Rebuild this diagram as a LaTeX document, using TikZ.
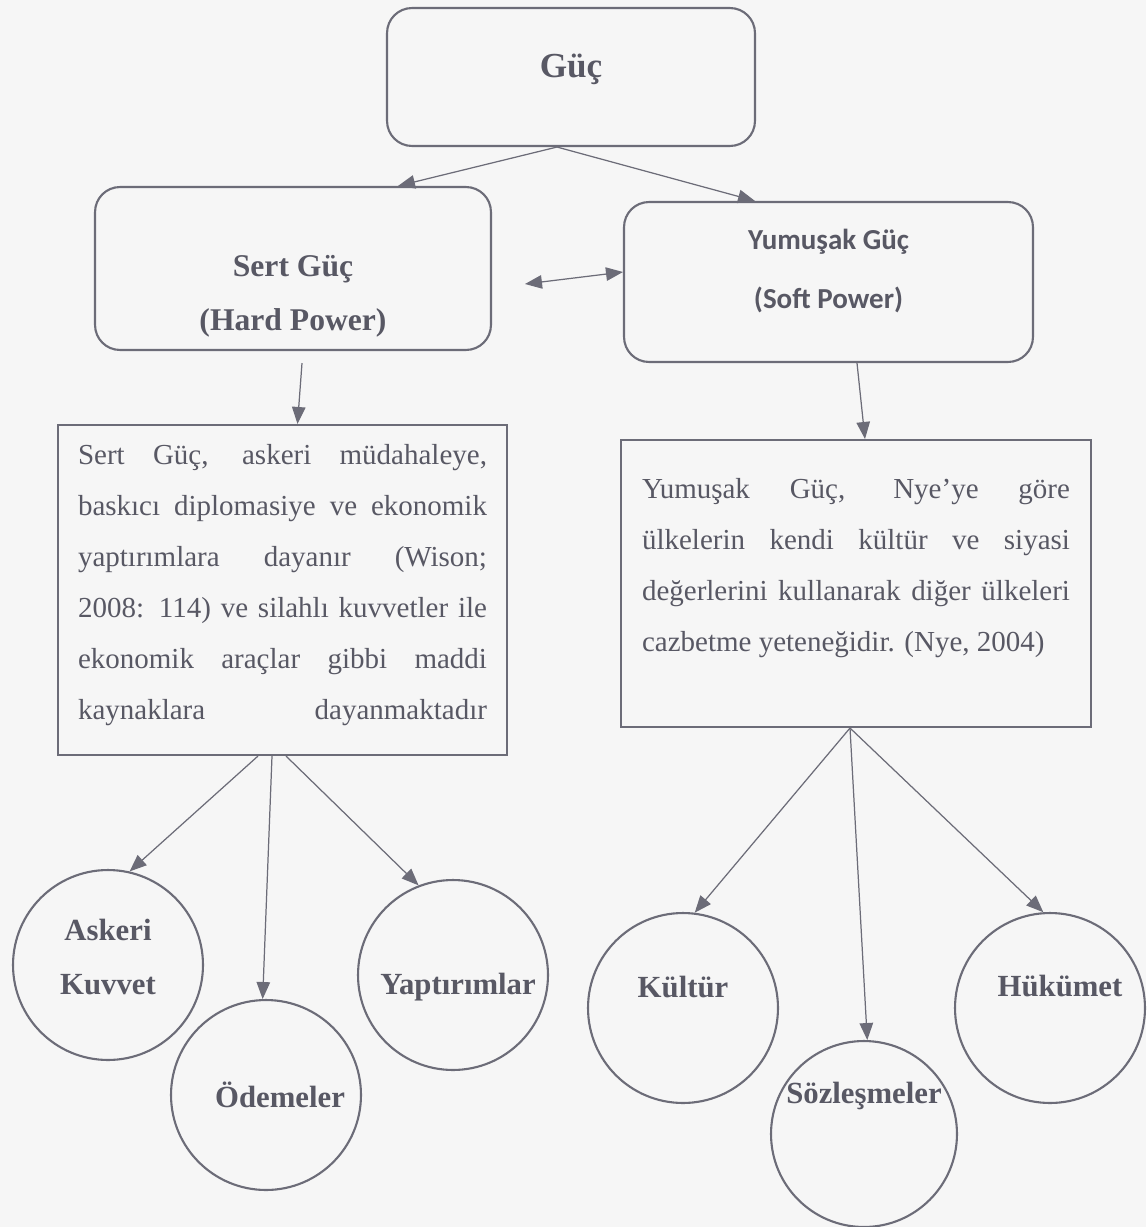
\documentclass[tikz,border=0pt]{standalone}
\usepackage{fontspec}
\setmainfont{Liberation Serif}
\newfontfamily\calib{Carlito}
\usepackage{xcolor}
\usepackage{tikz}
\usetikzlibrary{arrows.meta}
\definecolor{ink}{RGB}{88,88,100}
\definecolor{rule}{RGB}{108,108,120}
\definecolor{paper}{RGB}{246,246,246}

\begin{document}
\begin{tikzpicture}[x=0.02cm, y=-0.02cm, >={Triangle[length=3.4mm,width=2.7mm]},
	rbox/.style={draw=rule, line width=1.2pt, rounded corners=0.5cm},
	tbox/.style={draw=rule, line width=1.2pt},
	disc/.style={circle, draw=rule, line width=1.2pt, minimum size=3.8cm},
	lbl/.style={text=ink, font=\bfseries\fontsize{17.5}{31}\selectfont, align=center},
	para/.style={text=ink, font=\fontsize{16.5}{29}\selectfont, align=left},
	every edge/.style={draw=rule, line width=0.7pt}]
				\fill[paper] (0,0) rectangle (1146,1227);
				\useasboundingbox (0,0) rectangle (1146,1227);
				
				\node[rbox, minimum width=7.36cm, minimum height=2.76cm, label={[lbl, font=\bfseries\fontsize{20}{24}\selectfont, yshift=0.16cm]center:Güç}] (guc) at (571,77) {};
				\node[rbox, minimum width=7.92cm, minimum height=3.26cm, label={[lbl, font=\bfseries\fontsize{18}{31}\selectfont, yshift=-0.56cm]center:{Sert Güç\\(Hard Power)}}] (hard) at (293,268.5) {};
				\node[rbox, minimum width=8.18cm, minimum height=3.2cm, label={[lbl, font=\calib\bfseries\fontsize{16.5}{34}\selectfont, yshift=0.22cm]center:{Yumuşak Güç\\(Soft Power)}}] (soft) at (828.5,282) {};
				
				\node[tbox, minimum width=8.98cm, minimum height=6.6cm, label={[para, yshift=0.1cm]center:{%
					\makebox[8.18cm][s]{Sert Güç, askeri müdahaleye,}\\
					\makebox[8.18cm][s]{baskıcı diplomasiye ve ekonomik}\\
					\makebox[8.18cm][s]{yaptırımlara dayanır (Wison;}\\
					\makebox[8.18cm][s]{2008: 114) ve silahlı kuvvetler ile}\\
					\makebox[8.18cm][s]{ekonomik araçlar gibbi maddi}\\
					\makebox[8.18cm][s]{kaynaklara dayanmaktadır}}}] (hardtxt) at (282.5,590) {};
				\node[tbox, minimum width=9.4cm, minimum height=5.74cm, label={[para, yshift=0.31cm]center:{%
					\makebox[8.56cm][s]{Yumuşak Güç, Nye’ye göre}\\
					\makebox[8.56cm][s]{ülkelerin kendi kültür ve siyasi}\\
					\makebox[8.56cm][s]{değerlerini kullanarak diğer ülkeleri}\\
					cazbetme yeteneğidir. (Nye, 2004)}}] (softtxt) at (856,583.5) {};
				
				\node[disc, label={[lbl, yshift=0.16cm]center:{Askeri\\Kuvvet}}] (asker) at (108,965) {};
				\node[disc, label={[lbl, xshift=0.28cm]center:Ödemeler}] (odeme) at (266,1095) {};
				\node[disc, label={[lbl, xshift=0.1cm, yshift=-0.24cm]center:Yaptırımlar}] (yapt) at (453,975) {};
				\node[disc, label={[lbl, yshift=0.42cm]center:Kültür}] (kultur) at (683,1008) {};
				\node[disc, minimum size=3.72cm, label={[lbl, yshift=0.76cm]center:Sözleşmeler}] (sozles) at (864,1134) {};
				\node[disc, label={[lbl, xshift=0.2cm, yshift=0.44cm]center:Hükümet}] (hukum) at (1050,1008) {};
				
				\coordinate (gap) at (525,284);
				
				\path [->]([xshift=-0.28cm]guc.south) edge ([xshift=2.1cm]hard.north);
				\path [->]([xshift=-0.28cm]guc.south) edge ([xshift=-1.47cm]soft.north);
				\path [<->](gap) edge ([yshift=0.2cm]soft.west);
				\path [->]([xshift=0.18cm,yshift=-0.24cm]hard.south) edge ([xshift=0.3cm]hardtxt.north);
				\path [->]([xshift=0.57cm]soft.south) edge ([xshift=0.18cm]softtxt.north);
				\path [->]([xshift=-0.49cm]hardtxt.south) edge (asker.77);
				\path [->]([xshift=-0.21cm]hardtxt.south) edge (odeme.92);
				\path [->]([xshift=0.07cm]hardtxt.south) edge (yapt.111);
				\path [->]([xshift=-0.12cm]softtxt.south) edge (kultur.83);
				\path [->]([xshift=-0.12cm]softtxt.south) edge (sozles.88);
				\path [->]([xshift=-0.12cm]softtxt.south) edge (hukum.94);
			\end{tikzpicture}
\end{document}
